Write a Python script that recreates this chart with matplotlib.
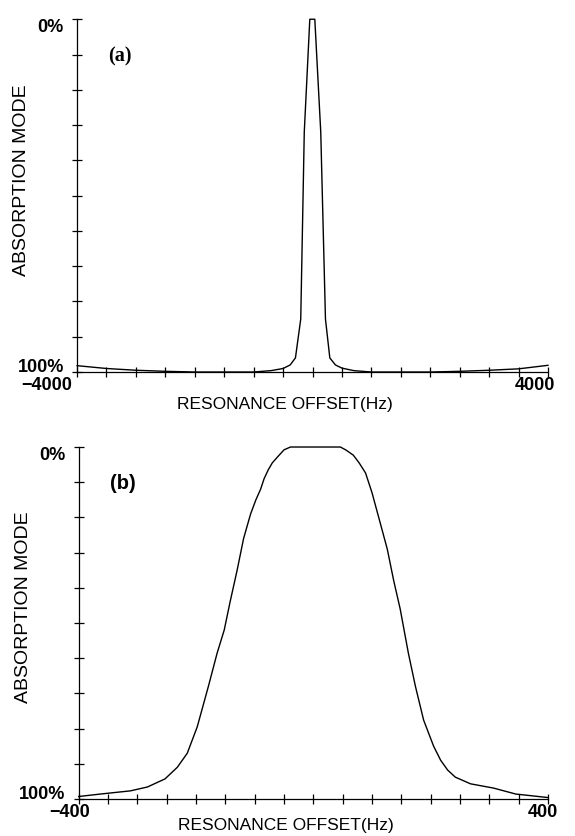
"""Absorption-mode response vs resonance offset, panels (a) and (b)."""
import matplotlib
matplotlib.use("Agg")
import matplotlib.pyplot as plt
import matplotlib.ticker as ticker

# panel (a): wide sweep, +-4000 Hz
hz_a = [-4000, -3500, -3000, -2500, -2000, -1500, -1000, -700, -500, -380,
        -290, -200, -140, -46, 39, 140, 220, 294, 390, 500, 700, 1000, 1500,
        2000, 2500, 3000, 3500, 4000]
pct_a = [98.2, 99.0, 99.5, 99.8, 100, 100, 100, 99.6, 99.0, 98.0,
         96.0, 85.0, 32.0, 0, 0, 32.0, 85.0, 96.0, 98.0, 98.9, 99.6, 100, 100,
         100, 99.8, 99.5, 99.1, 98.1]

# panel (b): narrow sweep, +-400 Hz
hz_b = [-400, -363, -312, -283, -253, -232, -215, -198, -179, -164, -152,
        -142, -130, -119, -107, -98, -90, -84, -77, -70, -61, -50, -39, 0,
        46, 55, 68, 78, 89, 100, 114, 126, 137, 148, 162, 174, 188, 205, 217,
        229, 242, 268, 307, 345, 400]
pct_b = [99.3, 98.6, 97.7, 96.6, 94.3, 91.0, 87.0, 79.5, 68.0, 58.5, 52.0,
         44.0, 35.0, 26.0, 19.0, 15.0, 12.0, 9.0, 6.5, 4.5, 2.8, 0.8, 0, 0,
         0, 0.8, 2.3, 4.5, 7.4, 13.0, 21.6, 29.0, 38.0, 46.0, 58.6, 68.0, 77.6,
         85.0, 89.0, 91.8, 93.8, 95.7, 96.9, 98.6, 99.6]

pct_ticks = list(range(0, 101, 10))
pct_labels = ["0%"] + [""] * 9 + ["100%"]

SANS = "Liberation Sans"


def draw(ax, hz, pct, span, step, tag, tag_font, lo_dx, hi_dx, xl_y):
    ax.plot(hz, pct, color="black", lw=1.0, clip_on=False)
    ax.set_xlim(-span, span)
    ax.set_ylim(100, 0)
    for s in ("top", "right"):
        ax.spines[s].set_visible(False)
    for s in ("left", "bottom"):
        ax.spines[s].set_linewidth(0.9)

    ax.set_xticks(range(-span, span + 1, step))
    ax.set_xticklabels([])
    ax.set_yticks(pct_ticks)
    ax.yaxis.set_major_formatter(ticker.FixedFormatter(pct_labels))
    ax.tick_params(direction="inout", length=7, width=0.9, color="black")
    ax.tick_params(axis="y", pad=6, labelsize=13)
    fig.canvas.draw()
    labs = ax.get_yticklabels()
    for lab in labs:
        lab.set_fontfamily(SANS)
        lab.set_fontweight("bold")
    labs[0].set_verticalalignment("top")
    labs[-1].set_verticalalignment("baseline")

    # end labels of the offset axis
    for val, dx in ((-span, lo_dx), (span, hi_dx)):
        ax.annotate(f"{val:d}".replace("-", "\u2212"), xy=(val, 0),
                    xycoords=("data", "axes fraction"),
                    xytext=(dx, -5), textcoords="offset pixels",
                    ha="center", va="top", fontsize=13, fontweight="bold",
                    family=SANS, annotation_clip=False)

    ax.set_xlabel("RESONANCE OFFSET(Hz)", fontsize=12.5, family=SANS)
    ax.xaxis.set_label_coords(0.442, xl_y)
    ax.set_ylabel("ABSORPTION MODE", fontsize=14, family=SANS)
    ax.yaxis.set_label_coords(-0.10, 0.545)

    ax.text(0.066, 0.895, tag, transform=ax.transAxes, ha="left", va="center",
            fontsize=14.5, fontweight="bold", family=tag_font)


fig = plt.figure(figsize=(5.75, 8.36), dpi=100)
ax_a = fig.add_axes([0.134, 0.555, 0.819, 0.422])
ax_b = fig.add_axes([0.137, 0.0443, 0.816, 0.421])

draw(ax_a, hz_a, pct_a, 4000, 500, "(a)", "Liberation Serif", -30, -13, -0.072)
draw(ax_b, hz_b, pct_b, 400, 50, "(b)", SANS, -9, -5, -0.054)

fig.savefig("out.png", dpi=100)
